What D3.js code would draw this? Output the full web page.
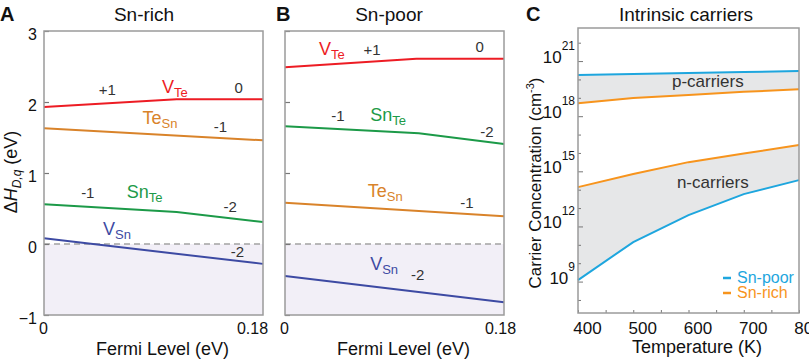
<!DOCTYPE html>
<html>
<head>
<meta charset="UTF-8">
<script src="https://d3js.org/d3.v7.min.js"></script>
<style>
  body { margin: 0; background: #fff; }
  svg { font-family: "Liberation Sans", Arial, Helvetica, sans-serif; }
</style>
</head>
<body>
<svg id="fig" width="809" height="360"></svg>
<script>
// ---- data: formation energy vs Fermi level (eV) ----
const fermiTicks = [0, 0.18];
const energyTicks = [-1, 0, 1, 2, 3];

const richVTe  = [[0, 1.93], [0.109, 2.04], [0.18, 2.04]];
const richTeSn = [[0, 1.63], [0.18, 1.46]];
const richSnTe = [[0, 0.56], [0.109, 0.45], [0.18, 0.31]];
const richVSn  = [[0, 0.08], [0.18, -0.28]];

const poorVTe  = [[0, 2.49], [0.108, 2.61], [0.18, 2.61]];
const poorSnTe = [[0, 1.66], [0.11, 1.56], [0.18, 1.41]];
const poorTeSn = [[0, 0.58], [0.18, 0.39]];
const poorVSn  = [[0, -0.45], [0.18, -0.82]];

// ---- data: intrinsic carriers (log10 cm^-3) ----
const temps  = [400, 500, 600, 700, 800];
const pPoor  = [20.24, 20.29, 20.35, 20.40, 20.46];
const pRich  = [18.71, 18.99, 19.15, 19.33, 19.46];
const nRich  = [14.14, 14.85, 15.50, 15.97, 16.43];
const nPoor  = [9.08, 11.15, 12.62, 13.76, 14.52];
const tempTicks = [400, 500, 600, 700, 800];
const expTicks = [9, 12, 15, 18, 21];

const col = {
  red: "#ed1c24", orange: "#d9832a", green: "#1c9a48", blue: "#3d4aa3",
  cBlue: "#1ea6de", cOrange: "#f7941d", box: "#9b9b9b", txt: "#333"
};

const svg = d3.select("#fig");

function species(g, x, y, main, sub, color) {
  const t = g.append("text").attr("x", x).attr("y", y)
    .attr("fill", color).style("font-size", "18px");
  t.append("tspan").text(main);
  t.append("tspan").attr("dy", 4).style("font-size", "13px").text(sub);
}

function charge(g, x, y, s) {
  g.append("text").attr("x", x).attr("y", y).attr("text-anchor", "middle")
    .attr("fill", col.txt).style("font-size", "15px").text(s);
}

function defectPanel(cfg) {
  const x = d3.scaleLinear().domain([0, 0.18]).range([cfg.left, cfg.right]);
  const y = d3.scaleLinear().domain([-1, 3]).range([315, 31]);
  const g = svg.append("g");

  // shaded negative region
  g.append("rect").attr("x", x(0)).attr("y", y(0))
    .attr("width", x(0.18) - x(0)).attr("height", y(-1) - y(0))
    .attr("fill", "#f2eff7");
  g.append("line").attr("x1", x(0)).attr("x2", x(0.18))
    .attr("y1", y(0)).attr("y2", y(0))
    .attr("stroke", "#a3a3a3").attr("stroke-width", 1.5).attr("stroke-dasharray", "6,4");

  const line = d3.line().x(d => x(d[0])).y(d => y(d[1]));
  cfg.series.forEach(s => {
    g.append("path").datum(s.data).attr("d", line)
      .attr("fill", "none").attr("stroke", s.color).attr("stroke-width", 2);
  });

  // axes
  const ya = g.append("g").attr("transform", `translate(${x(0)},0)`)
    .call(d3.axisLeft(y).tickValues(energyTicks).tickSizeInner(-5).tickSizeOuter(0)
      .tickPadding(7).tickFormat(cfg.yLabels ? (d => d < 0 ? "\u2212" + Math.abs(d) : d) : ""));
  ya.select(".domain").remove();
  ya.selectAll("line").attr("stroke", "#777").attr("stroke-width", 1.2);
  ya.selectAll("text").attr("dy", "0.55em").style("font-size", "16px").attr("fill", "#111");

  const xa = g.append("g").attr("transform", `translate(0,${y(-1)})`)
    .call(d3.axisBottom(x).tickValues(fermiTicks).tickSize(0).tickPadding(8)
      .tickFormat(d => d === 0 ? "0" : "0.18"));
  xa.select(".domain").remove();
  xa.selectAll("text").style("font-size", "16px").attr("fill", "#111")
    .attr("dx", d => d === 0 ? -1 : cfg.endShift);

  g.append("rect").attr("x", x(0)).attr("y", y(3))
    .attr("width", x(0.18) - x(0)).attr("height", y(-1) - y(3))
    .attr("fill", "none").attr("stroke", col.box).attr("stroke-width", 1.5);

  cfg.species.forEach(s => species(g, x(s[0]), y(s[1]), s[2], s[3], s[4]));
  cfg.charges.forEach(c => charge(g, x(c[0]), y(c[1]), c[2]));

  g.append("text").attr("x", (cfg.left + cfg.right) / 2 + 9).attr("y", 355)
    .attr("text-anchor", "middle").style("font-size", "18px").attr("fill", "#111")
    .text("Fermi Level (eV)");
  g.append("text").attr("x", cfg.titleX).attr("y", 21).attr("text-anchor", "middle")
    .style("font-size", "19px").attr("fill", "#111").text(cfg.title);
  g.append("text").attr("x", cfg.letterX).attr("y", 21)
    .style("font-size", "20px").style("font-weight", "bold").attr("fill", "#111").text(cfg.letter);
}

defectPanel({
  left: 44, right: 263, title: "Sn-rich", titleX: 144, letter: "A", letterX: 0,
  yLabels: true, endShift: -11,
  series: [
    { data: richVTe, color: col.red }, { data: richTeSn, color: col.orange },
    { data: richSnTe, color: col.green }, { data: richVSn, color: col.blue }
  ],
  species: [
    [0.097, 2.13, "V", "Te", col.red], [0.081, 1.69, "Te", "Sn", col.orange],
    [0.068, 0.65, "Sn", "Te", col.green], [0.0485, 0.13, "V", "Sn", col.blue]
  ],
  charges: [
    [0.052, 2.10, "+1"], [0.160, 2.13, "0"], [0.145, 1.58, "-1"],
    [0.036, 0.65, "-1"], [0.153, 0.45, "-2"], [0.159, -0.18, "-2"]
  ]
});

defectPanel({
  left: 285, right: 504, title: "Sn-poor", titleX: 389, letter: "B", letterX: 276,
  yLabels: false, endShift: -4,
  series: [
    { data: poorVTe, color: col.red }, { data: poorSnTe, color: col.green },
    { data: poorTeSn, color: col.orange }, { data: poorVSn, color: col.blue }
  ],
  species: [
    [0.028, 2.66, "V", "Te", col.red], [0.070, 1.73, "Sn", "Te", col.green],
    [0.068, 0.66, "Te", "Sn", col.orange], [0.070, -0.37, "V", "Sn", col.blue]
  ],
  charges: [
    [0.0715, 2.66, "+1"], [0.160, 2.70, "0"], [0.0435, 1.73, "-1"],
    [0.166, 1.51, "-2"], [0.1496, 0.51, "-1"], [0.109, -0.51, "-2"]
  ]
});

// y-axis title for A
const yt = svg.append("text").attr("transform", "translate(17,172) rotate(-90)")
  .attr("text-anchor", "middle").style("font-size", "18px").attr("fill", "#111");
yt.append("tspan").text("\u0394");
yt.append("tspan").style("font-style", "italic").text("H");
yt.append("tspan").attr("dy", 4).style("font-size", "12px").style("font-style", "italic").text("D,q");
yt.append("tspan").attr("dy", -4).text(" (eV)");

// ---- panel C ----
(function () {
  const x = d3.scaleLinear().domain([400, 800]).range([578, 799]);
  const y = d3.scaleLinear().domain([7.29, 22.8]).range([313, 28]);
  const g = svg.append("g");

  const rows = temps.map((t, i) => ({ t, pp: pPoor[i], pr: pRich[i], nr: nRich[i], np: nPoor[i] }));
  const band = (a, b) => d3.area().x(d => x(d.t)).y0(d => y(d[a])).y1(d => y(d[b]));
  g.append("path").datum(rows).attr("d", band("pr", "pp")).attr("fill", "#e6e7e8");
  g.append("path").datum(rows).attr("d", band("np", "nr")).attr("fill", "#e6e7e8");

  const ln = key => d3.line().x(d => x(d.t)).y(d => y(d[key]));
  [["pp", col.cBlue], ["pr", col.cOrange], ["nr", col.cOrange], ["np", col.cBlue]].forEach(([k, c]) => {
    g.append("path").datum(rows).attr("d", ln(k)).attr("fill", "none")
      .attr("stroke", c).attr("stroke-width", 2);
  });

  // minor + major ticks
  const ya = g.append("g").attr("transform", `translate(${x(400)},0)`)
    .call(d3.axisLeft(y).tickValues(d3.range(8, 23)).tickSizeInner(-3).tickSizeOuter(0).tickFormat(""));
  ya.select(".domain").remove();
  ya.selectAll("line").attr("stroke", "#777").attr("stroke-width", 1)
    .attr("x2", d => expTicks.includes(d) ? 5 : 3);

  expTicks.forEach(e => {
    const t = g.append("text").attr("x", 575).attr("y", y(e) + 2).attr("text-anchor", "end")
      .style("font-size", "17px").attr("fill", "#111");
    t.append("tspan").text("10");
    t.append("tspan").attr("dy", -13).style("font-size", "12px").text(e);
  });

  const xa = g.append("g").attr("transform", `translate(0,${y(7.29)})`)
    .call(d3.axisBottom(x).tickValues(d3.range(400, 801, 50)).tickSizeInner(-3).tickSizeOuter(0)
      .tickPadding(9).tickFormat(d => tempTicks.includes(d) ? d : ""));
  xa.select(".domain").remove();
  xa.selectAll("line").attr("stroke", "#777");
  xa.selectAll("text").attr("dx", 9).style("font-size", "17px").attr("fill", "#111");

  g.append("rect").attr("x", 578).attr("y", y(22.8)).attr("width", 221).attr("height", y(7.29) - y(22.8))
    .attr("fill", "none").attr("stroke", col.box).attr("stroke-width", 1.5);

  g.append("text").attr("x", x(635)).attr("y", y(19.59)).attr("text-anchor", "middle")
    .style("font-size", "17px").attr("fill", col.txt).text("p-carriers");
  g.append("text").attr("x", x(644)).attr("y", y(14.09)).attr("text-anchor", "middle")
    .style("font-size", "17px").attr("fill", col.txt).text("n-carriers");

  // legend
  [["Sn-poor", col.cBlue, 283], ["Sn-rich", col.cOrange, 298]].forEach(([s, c, yy]) => {
    g.append("line").attr("x1", 723).attr("x2", 731).attr("y1", yy - 5).attr("y2", yy - 5)
      .attr("stroke", c).attr("stroke-width", 2.5);
    g.append("text").attr("x", 737).attr("y", yy).style("font-size", "16px").attr("fill", c).text(s);
  });

  g.append("text").attr("x", 697).attr("y", 353).attr("text-anchor", "middle")
    .style("font-size", "18px").attr("fill", "#111").text("Temperature (K)");
  g.append("text").attr("x", 686).attr("y", 21).attr("text-anchor", "middle")
    .style("font-size", "19px").attr("fill", "#111").text("Intrinsic carriers");
  g.append("text").attr("x", 526).attr("y", 21).style("font-size", "20px")
    .style("font-weight", "bold").attr("fill", "#111").text("C");

  const ct = g.append("text").attr("transform", "translate(541,183) rotate(-90)")
    .attr("text-anchor", "middle").style("font-size", "17px").attr("fill", "#111");
  ct.append("tspan").text("Carrier Concentration (cm");
  ct.append("tspan").attr("dy", -7).style("font-size", "11px").text("-3");
  ct.append("tspan").attr("dy", 7).text(")");
})();
</script>
</body>
</html>
